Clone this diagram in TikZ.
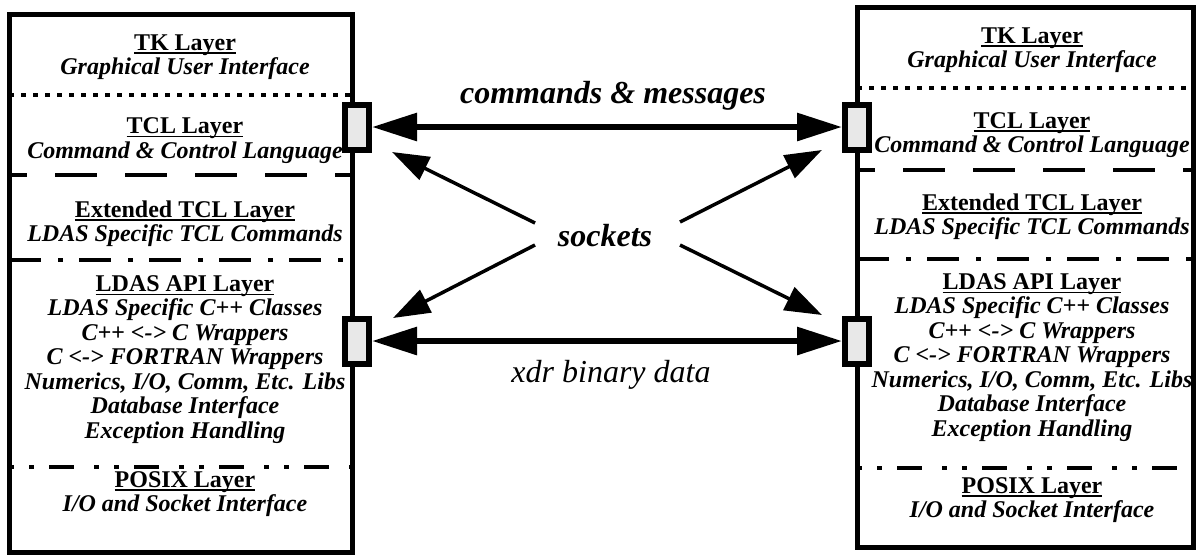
\documentclass[tikz,border=0pt]{standalone}
\usepackage{fontspec}
\setmainfont{Liberation Serif}
\usetikzlibrary{arrows.meta}
\newcommand\ulhdr[1]{\setbox0\hbox{\upshape #1}\leavevmode\rlap{\rule[-1.9pt]{\wd0}{0.75pt}}\box0}
\begin{document}
\begin{tikzpicture}[x=0.5pt,y=-0.5pt,
  layer/.style={align=center, font=\fontsize{12}{12.25}\selectfont\bfseries\itshape, inner sep=0pt},
  sock/.style={draw, line width=3pt, fill=gray!18, minimum width=12pt, minimum height=22.5pt, inner sep=0pt},
  sep/.style={line width=2pt},
  dotsep/.style={sep, dash pattern=on 2.5pt off 3.5pt},
  dashsep/.style={sep, dash pattern=on 21pt off 14pt, dash phase=12pt},
  dashdotsep/.style={sep, dash pattern=on 16pt off 8.5pt on 2.5pt off 8pt},
  dashdotdotsep/.style={sep, dash pattern=on 2.5pt off 7.5pt on 2.5pt off 7.5pt on 12.5pt off 10pt},
  bigarrow/.style={line width=3pt, {Triangle[length=22.5pt,width=13.5pt]}-{Triangle[length=22.5pt,width=13.5pt]}},
  sockarrow/.style={line width=1.75pt, -{Triangle[length=18.5pt,width=12.5pt]}},
  midlabel/.style={font=\fontsize{16}{18}\selectfont\bfseries\itshape, inner sep=0pt}
]
\useasboundingbox (0,0) rectangle (1199,558);

% boxes (path only, for anchors)
\path node[minimum width=171.5pt, minimum height=269pt, inner sep=0pt] (LB) at (181,283.5) {};
\path node[minimum width=168pt, minimum height=270pt, inner sep=0pt] (RB) at (1025.5,277.5) {};

% separators left
\draw[dotsep] (LB.west |- 0,95) -- (LB.east |- 0,95);
\draw[dashsep] (LB.west |- 0,175) -- (LB.east |- 0,175);
\draw[dashdotsep] (LB.west |- 0,260) -- (LB.east |- 0,260);
\draw[dashdotdotsep] (LB.west |- 0,467) -- (LB.east |- 0,467);
% separators right
\draw[dotsep] (RB.west |- 0,88) -- (RB.east |- 0,88);
\draw[dashsep] (RB.west |- 0,170) -- (RB.east |- 0,170);
\draw[dashdotsep] (RB.west |- 0,259) -- (RB.east |- 0,259);
\draw[dashdotdotsep] (RB.west |- 0,468) -- (RB.east |- 0,468);

\draw[line width=2.5pt] (LB.north west) rectangle (LB.south east);
\draw[line width=2.5pt] (RB.north west) rectangle (RB.south east);

% left texts
\node[layer] (L1) at (185,57) {\ulhdr{TK Layer}\\Graphical User Interface};
\node[layer] (L2) at (185,140.5) {\ulhdr{TCL Layer}\\Command \& Control Language};
\node[layer] (L3) at (185,223.5) {\ulhdr{Extended TCL Layer}\\LDAS Specific TCL Commands};
\node[layer] (L4) at (185,359.5) {\ulhdr{LDAS API Layer}\\LDAS Specific C++ Classes\\C++ <-> C Wrappers\\C <-> FORTRAN Wrappers\\Numerics, I/O, Comm, Etc. Libs\\Database Interface\\Exception Handling};
\node[layer] (L5) at (185,494) {\ulhdr{POSIX Layer}\\I/O and Socket Interface};

% right texts
\node[layer] (R1) at (1032,50) {\ulhdr{TK Layer}\\Graphical User Interface};
\node[layer] (R2) at (1032,135) {\ulhdr{TCL Layer}\\Command \& Control Language};
\node[layer] (R3) at (1032,216.5) {\ulhdr{Extended TCL Layer}\\LDAS Specific TCL Commands};
\node[layer] (R4) at (1032,357.5) {\ulhdr{LDAS API Layer}\\LDAS Specific C++ Classes\\C++ <-> C Wrappers\\C <-> FORTRAN Wrappers\\Numerics, I/O, Comm, Etc. Libs\\Database Interface\\Exception Handling};
\node[layer] (R5) at (1032,500) {\ulhdr{POSIX Layer}\\I/O and Socket Interface};

% socket rectangles
\node[sock] (SL1) at (357,127) {};
\node[sock] (SL2) at (357,341) {};
\node[sock] (SR1) at (857,127) {};
\node[sock] (SR2) at (857,341) {};

% middle labels
\node[midlabel] (cm) at (613,96) {commands \& messages};
\node[midlabel] (sk) at (605,236) {sockets};
\node[font=\fontsize{16}{18}\selectfont\itshape, inner sep=0pt] (xdr) at (611,375) {xdr binary data};

% arrows
\draw[bigarrow] (SL1.east) -- (SR1.west);
\draw[bigarrow] (SL2.east) -- (SR2.west);

\coordinate (t1) at (535,223);
\coordinate (t2) at (680,222);
\coordinate (t3) at (535,245);
\coordinate (t4) at (680,245);
\coordinate (p1) at (392,152);
\coordinate (p2) at (822,150);
\coordinate (p3) at (393,318);
\coordinate (p4) at (822,315);
\draw[sockarrow] (t1) -- (p1);
\draw[sockarrow] (t2) -- (p2);
\draw[sockarrow] (t3) -- (p3);
\draw[sockarrow] (t4) -- (p4);
\end{tikzpicture}
\end{document}
